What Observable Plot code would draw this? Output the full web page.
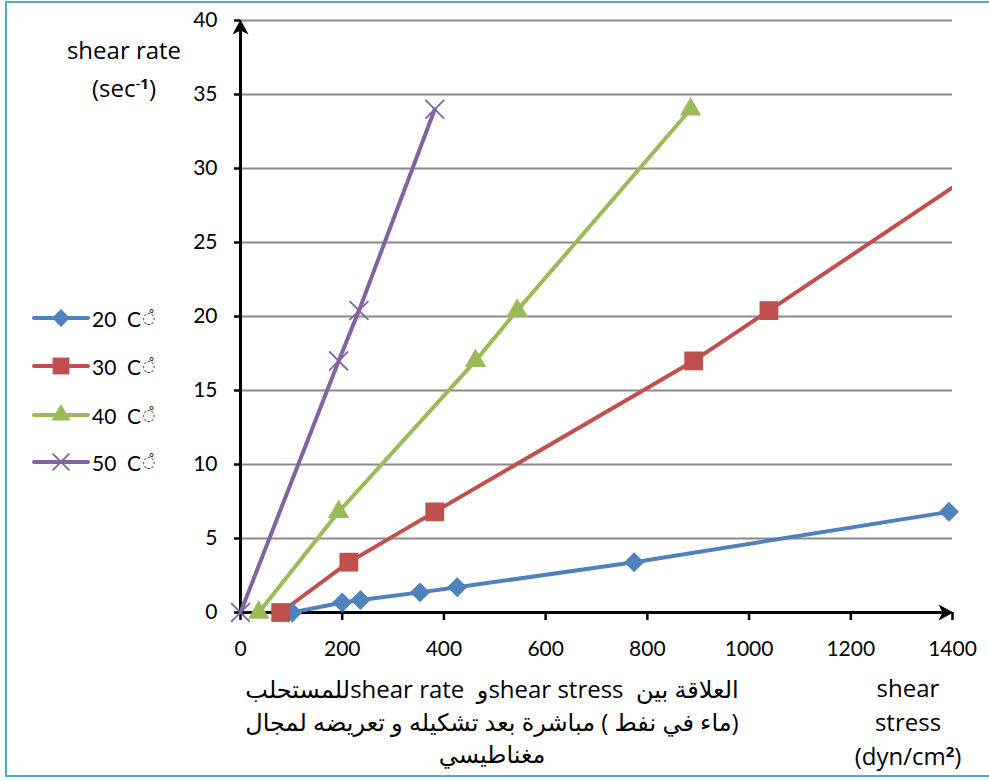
<!DOCTYPE html>
<html>
<head>
<meta charset="utf-8">
<script src="https://cdn.jsdelivr.net/npm/d3@7"></script>
<script src="https://cdn.jsdelivr.net/npm/@observablehq/plot@0.6"></script>
<style>
  html, body { margin: 0; padding: 0; background: #fff; }
  #wrap { position: relative; width: 989px; height: 781px; overflow: hidden; font-family: "Open Sans", "DejaVu Sans", sans-serif; color: #000; }
  #frame { position: absolute; left: 5px; top: 1px; width: 1200px; height: 776px; border-left: 2px solid #4bacc6; border-top: 2px solid #4bacc6; border-bottom: 2px solid #4bacc6; box-sizing: border-box; pointer-events: none; }
  #chart { position: absolute; left: 0; top: 0; }
  #chart svg [aria-label$="-axis tick"] { stroke-width: 2.5px; }
  .lbl { position: absolute; text-align: center; font-size: 24px; white-space: nowrap; font-family: "Open Sans", sans-serif; }
  #legend { position: absolute; left: 32px; top: 0; }
  .row { position: absolute; left: 0; height: 24px; display: flex; align-items: center; font-size: 21px; white-space: nowrap; font-family: Lato, sans-serif; }
  .row svg { display: block; }
  .deg { font-family: "DejaVu Sans"; font-size: 15px; color: #333; margin-left: 1px; }
  #caption { position: absolute; left: 192px; width: 600px; top: 673px; direction: rtl; text-align: center; font-size: 24px; line-height: 32.5px; font-family: "Open Sans", "DejaVu Sans", sans-serif; }
</style>
</head>
<body>
<div id="wrap">
  <div id="chart"></div>
  <div class="lbl" style="left:44px; width:160px; top:31px; line-height:38px;">shear rate<br>(sec<sup style="font-size:15px; line-height:0; vertical-align: 8px;">-<b>1</b></sup>)</div>
  <div class="lbl" style="left:848px; width:120px; top:671px; line-height:34px;">shear<br>stress<br>(dyn/cm<sup style="font-size:15px; line-height:0; vertical-align: 8px;"><b>2</b></sup>)</div>
  <div id="caption">العلاقة بين&nbsp; shear stressو&nbsp; shear rateللمستحلب<br>(ماء في نفط ) مباشرة بعد تشكيله و تعريضه لمجال<br>مغناطيسي</div>
  <div id="legend"></div>
  <div id="frame"></div>
</div>
<script>
// ---- data ----
const seriesNames = ["20  C", "30  C", "40  C", "50  C"];
const seriesColors = ["#4F81BD", "#C0504D", "#9BBB59", "#8064A2"];
const seriesSymbols = ["diamond2", "square", "triangle", "times"];

const stress20 = [102, 200, 236, 353, 426, 774, 1393];
const rate20   = [0, 0.68, 0.85, 1.36, 1.7, 3.4, 6.8];
const stress30 = [79, 213, 382, 891, 1039, 1630];
const rate30   = [0, 3.4, 6.8, 17, 20.4, 34];
const stress40 = [36, 193, 462, 544, 885];
const rate40   = [0, 6.8, 17, 20.4, 34];
const stress50 = [0, 193, 233, 382];
const rate50   = [0, 17, 20.4, 34];

const xTicks = [0, 200, 400, 600, 800, 1000, 1200, 1400];
const yTicks = [0, 5, 10, 15, 20, 25, 30, 35, 40];
const gridValues = [5, 10, 15, 20, 25, 30, 35, 40];

const stresses = [stress20, stress30, stress40, stress50];
const rates = [rate20, rate30, rate40, rate50];
const series = stresses.map((s, i) => s.map((x, j) => ({x, y: rates[i][j], k: i})));

// marker sizes (Plot dot radius) per series
const markerR = [9, 10.6, 7.9, 8.6];

// custom arrowheads for the axes
const arrowUp = { draw(ctx) { ctx.moveTo(0, -1); ctx.lineTo(8, 14); ctx.lineTo(0, 10); ctx.lineTo(-8, 14); ctx.closePath(); } };
const arrowRight = { draw(ctx) { ctx.moveTo(1, 0); ctx.lineTo(-14, -8); ctx.lineTo(-10, 0); ctx.lineTo(-14, 8); ctx.closePath(); } };

const marks = [
  Plot.ruleY(gridValues, {x1: 0, x2: 1400, stroke: "#8a8a8a", strokeWidth: 2}),
  Plot.ruleX([0], {y1: 0, y2: 39.3, stroke: "#000", strokeWidth: 3}),
  Plot.ruleY([0], {x1: 0, x2: 1390, stroke: "#000", strokeWidth: 3}),
  Plot.dot([{x: 0, y: 40}], {x: "x", y: "y", symbol: arrowUp, fill: "#000", stroke: "none", r: 5}),
  Plot.dot([{x: 1400, y: 0}], {x: "x", y: "y", symbol: arrowRight, fill: "#000", stroke: "none", r: 5}),
];
series.forEach((d, i) => {
  marks.push(Plot.line(d, {x: "x", y: "y", stroke: seriesColors[i], strokeWidth: 4, clip: true}));
});
series.forEach((d, i) => {
  const isTimes = seriesSymbols[i] === "times";
  marks.push(Plot.dot(d, {
    x: "x", y: "y", filter: p => p.x <= 1400,
    symbol: () => seriesSymbols[i],
    r: markerR[i],
    fill: isTimes ? "none" : seriesColors[i],
    stroke: isTimes ? seriesColors[i] : "none",
    strokeWidth: isTimes ? 1.8 : 0
  }));
});

const chart = Plot.plot({
  width: 989,
  height: 781,
  marginLeft: 240,
  marginRight: 37,
  marginTop: 20,
  marginBottom: 169,
  style: {fontFamily: "Lato, 'DejaVu Sans', sans-serif", fontSize: "21px", color: "#000", background: "transparent", overflow: "visible"},
  x: {domain: [0, 1400], ticks: xTicks, tickSize: 8, tickPadding: 21, tickFormat: d => String(d), label: null},
  y: {domain: [0, 40], ticks: yTicks, tickSize: 6, tickPadding: 17, tickFormat: d => String(d), label: null},
  marks
});
document.getElementById("chart").appendChild(chart);

// ---- legend ----
const legend = document.getElementById("legend");
const rowCenters = [318, 366, 415, 462];
seriesNames.forEach((name, i) => {
  const row = document.createElement("div");
  row.className = "row";
  row.style.top = (rowCenters[i] - 12) + "px";
  const svg = d3.create("svg").attr("width", 60).attr("height", 24);
  svg.append("line").attr("x1", 2).attr("x2", 56).attr("y1", 12).attr("y2", 12)
    .attr("stroke", seriesColors[i]).attr("stroke-width", 4).attr("stroke-linecap", "round");
  const symMap = {diamond2: d3.symbolDiamond2, square: d3.symbolSquare, triangle: d3.symbolTriangle, times: d3.symbolTimes};
  const size = Math.PI * markerR[i] * markerR[i] * 0.8;
  const isTimes = seriesSymbols[i] === "times";
  svg.append("path").attr("transform", "translate(29,12)")
    .attr("d", d3.symbol(symMap[seriesSymbols[i]], size)())
    .attr("fill", isTimes ? "none" : seriesColors[i])
    .attr("stroke", isTimes ? seriesColors[i] : "none")
    .attr("stroke-width", 1.8);
  row.appendChild(svg.node());
  const t = document.createElement("span");
  t.style.whiteSpace = "pre";
  t.textContent = name;
  row.appendChild(t);
  const deg = document.createElement("span");
  deg.className = "deg";
  deg.textContent = "\u25CC\u030A";
  row.appendChild(deg);
  legend.appendChild(row);
});
</script>
</body>
</html>
